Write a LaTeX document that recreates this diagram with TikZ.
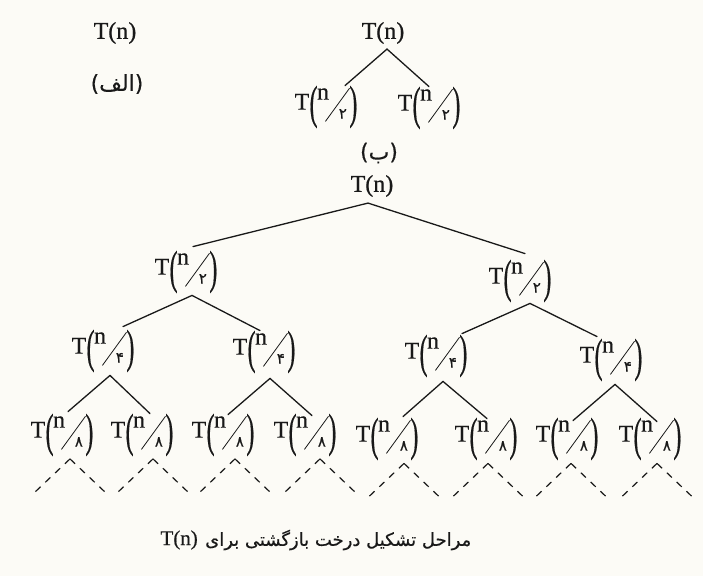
\documentclass[tikz,border=0pt]{standalone}
\usepackage{fontspec}
\usepackage{graphicx}
\setmainfont{Liberation Serif}[RawFeature={embolden=0.5}]
\newfontfamily\arabicfont[Script=Arabic,RawFeature={embolden=0.4}]{DejaVu Sans}
\newfontfamily\digitfont[RawFeature={embolden=0.6}]{DejaVu Sans}
\TeXXeTstate=1
\definecolor{paper}{RGB}{252,251,246}
\definecolor{ink}{RGB}{25,25,25}

% T(n/k) with tall parentheses and a slanted fraction bar
\newcommand\Tfrac[1]{%
  T\kern0.3pt\raisebox{-8.6pt}{\scalebox{1}[1.95]{(}}%
  \kern-0.5pt\raisebox{10pt}{n}%
  \kern-4pt\raisebox{-12pt}{\rotatebox{54}{\rule{41pt}{0.8pt}}}%
  \kern-11pt\raisebox{-9pt}{\digitfont\fontsize{15}{15}\selectfont #1}%
  \kern2.5pt\raisebox{-8.6pt}{\scalebox{1}[1.95]{)}}}

\tikzset{
  lbl/.style={inner sep=0pt, text=ink, font=\fontsize{24}{28}\selectfont},
  fa/.style={inner sep=0pt, text=ink, font=\arabicfont\fontsize{22}{26}\selectfont},
  edge/.style={draw=ink, line width=1.3pt, line cap=round, line join=miter},
  dashline/.style={draw=ink, line width=1.2pt, dash pattern=on 7pt off 6.5pt},
}

\begin{document}
\begin{tikzpicture}[x=1pt, y=-1pt]
  \fill[paper] (0,0) rectangle (703,576);
  \useasboundingbox (0,0) rectangle (703,576);

  % (a) single call
  \node[lbl] (ta) at (115,33) {T(n)};
  \node[fa] (alef) at (117,84) {\beginR(الف)\endR};

  % (b) first expansion
  \node[lbl] (broot) at (383,33) {T(n)};
  \node[lbl] (bl) at (326,107) {\Tfrac{۲}};
  \node[lbl] (br) at (429,108) {\Tfrac{۲}};
  \node[fa] (be) at (379,153) {\beginR(ب)\endR};
  \coordinate (broot-a) at ([xshift=4pt,yshift=-5pt]broot.south);
  \draw[edge] ([xshift=19pt]bl.north) -- (broot-a) -- (br.north);

  % full recursion tree
  \node[lbl] (root) at (372,186) {T(n)};
  \node[lbl] (n2a) at (186,272) {\Tfrac{۲}};
  \node[lbl] (n2b) at (520,281) {\Tfrac{۲}};
  \node[lbl] (n4a) at (103,351) {\Tfrac{۴}};
  \node[lbl] (n4b) at (264,352) {\Tfrac{۴}};
  \node[lbl] (n4c) at (436,356) {\Tfrac{۴}};
  \node[lbl] (n4d) at (611,360) {\Tfrac{۴}};
  \node[lbl] (l1) at (62,435) {\Tfrac{۸}};
  \node[lbl] (l2) at (142,435) {\Tfrac{۸}};
  \node[lbl] (l3) at (223,435) {\Tfrac{۸}};
  \node[lbl] (l4) at (305,435) {\Tfrac{۸}};
  \node[lbl] (l5) at (387,439) {\Tfrac{۸}};
  \node[lbl] (l6) at (486,439) {\Tfrac{۸}};
  \node[lbl] (l7) at (567,439) {\Tfrac{۸}};
  \node[lbl] (l8) at (650,439) {\Tfrac{۸}};

  \coordinate (root-a) at ([xshift=-4pt,yshift=-6pt]root.south);
  \draw[edge] ([xshift=7pt,yshift=4pt]n2a.north) -- (root-a) -- ([xshift=5pt,yshift=6pt]n2b.north);

  \coordinate (n2a-a) at ([xshift=6pt,yshift=-2pt]n2a.south);
  \draw[edge] ([xshift=20pt,yshift=3pt]n4a.north) -- (n2a-a) -- ([xshift=-4pt]n4b.north);
  \coordinate (n2b-a) at ([xshift=10pt,yshift=-1pt]n2b.south);
  \draw[edge] ([xshift=26pt,yshift=1pt]n4c.north) -- (n2b-a) -- ([xshift=-14pt,yshift=2pt]n4d.north);

  \coordinate (n4a-a) at ([xshift=7pt,yshift=-3pt]n4a.south);
  \draw[edge] ([xshift=6pt,yshift=2pt]l1.north) -- (n4a-a) -- ([xshift=8pt]l2.north);
  \coordinate (n4b-a) at ([xshift=6pt,yshift=-5pt]n4b.south);
  \draw[edge] ([xshift=5pt,yshift=-1pt]l3.north) -- (n4b-a) -- ([xshift=7pt,yshift=-2pt]l4.north);
  \coordinate (n4c-a) at ([xshift=7pt,yshift=-4pt]n4c.south);
  \draw[edge] ([xshift=16pt,yshift=1pt]l5.north) -- (n4c-a) -- ([xshift=1pt,yshift=-1pt]l6.north);
  \coordinate (n4d-a) at ([xshift=4pt,yshift=-3pt]n4d.south);
  \draw[edge] ([xshift=6pt,yshift=-3pt]l7.north) -- (n4d-a) -- ([xshift=7pt,yshift=-4pt]l8.north);

  % dashed continuation below every leaf
  \foreach \i/\dx/\dy in {1/8/2.5, 2/11/2.5, 3/12/2.5, 4/15/2.5, 5/17/3, 6/2/3, 7/4/3, 8/7/3} {
    \coordinate (k\i) at ([xshift=\dx pt,yshift=-\dy pt]l\i.south);
    \coordinate (kl\i) at ([xshift=-37pt,yshift=-35pt]k\i);
    \coordinate (kr\i) at ([xshift=37pt,yshift=-35pt]k\i);
    \draw[dashline] (k\i) -- (kl\i);
    \draw[dashline] (k\i) -- (kr\i);
  }

  % caption
  \node[fa, font=\arabicfont\fontsize{18}{22}\selectfont, anchor=west] (captxt) at (205,540)
    {\beginR مراحل تشکیل درخت بازگشتی برای\endR};
  \node[lbl, font=\fontsize{21}{24}\selectfont, anchor=east] (capt) at ([xshift=-7pt]captxt.west) {T(n)};
\end{tikzpicture}
\end{document}
